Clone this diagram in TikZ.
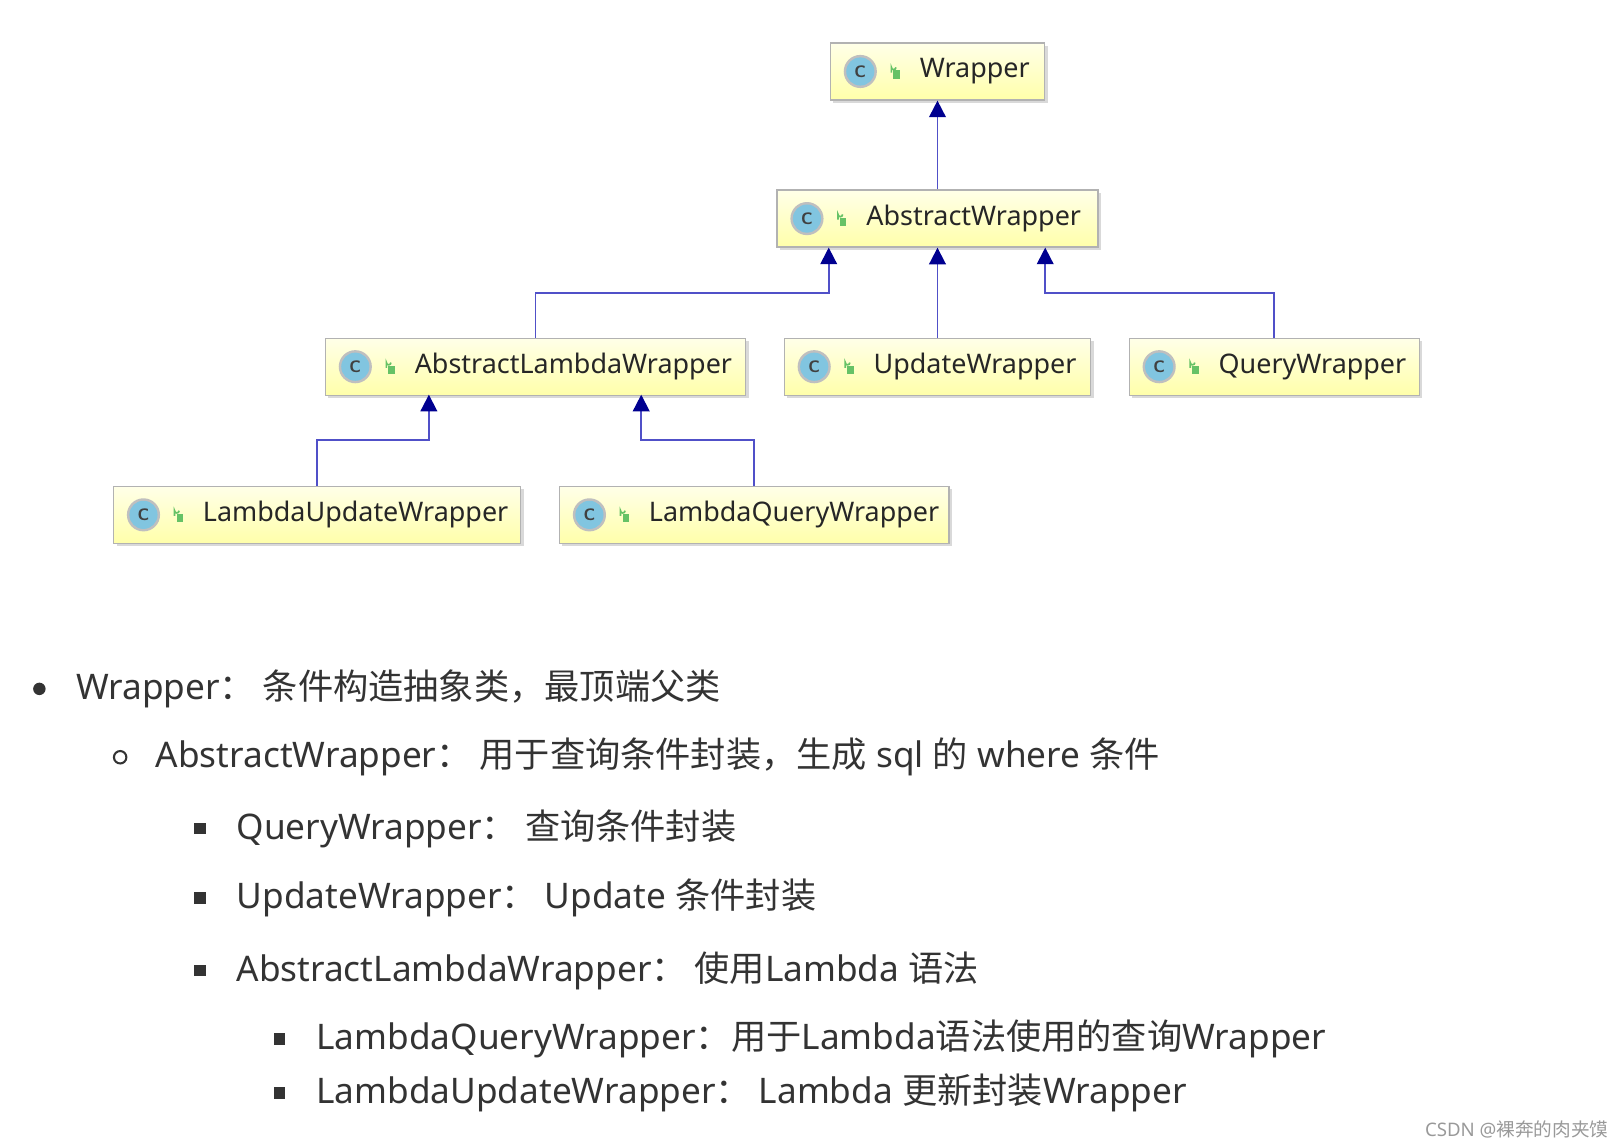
\documentclass[tikz,border=0pt]{standalone}
\usepackage{fontspec}
\setmainfont{Noto Sans}
\newfontfamily\cjk{Noto Sans CJK SC}
\usetikzlibrary{arrows.meta,shadows}
\newcommand\zh[1]{{\cjk #1}}
\definecolor{txt}{HTML}{333333}
\definecolor{edge}{HTML}{5050C8}
\definecolor{tip}{HTML}{000090}
\tikzset{
  cls/.style={draw=black!30, line width=0.6pt, top color={rgb,255:red,255;green,255;blue,232}, bottom color={rgb,255:red,255;green,255;blue,170}, minimum height=27.5pt, inner sep=0pt, drop shadow={shadow xshift=1.5pt, shadow yshift=-1.5pt, fill=black!25, opacity=0.6}},
  lbl/.style={anchor=west, font=\fontsize{13}{15}\selectfont, text=black!85, inner sep=0pt},
  inh/.style={draw=edge, line width=0.9pt, -{Triangle[width=8pt,length=8pt,fill=tip,color=tip]}},
  item/.style={anchor=west, font=\fontsize{17}{20}\selectfont, text=txt, inner sep=0pt},
  dot/.style={fill=txt, circle, inner sep=0pt, minimum size=6pt},
  ring/.style={draw=txt, line width=1pt, circle, inner sep=0pt, minimum size=6pt},
  sq/.style={fill=txt, inner sep=0pt, minimum size=5.5pt},
}
\newcommand\cls[5]{%
  \node[cls, minimum width=#4*0.5pt] (#1) at (#2,#3) {};
  \fill[black!25] (#2-#4/2+29,#3) circle (8pt);
  \fill[cyan!60!teal!55] (#2-#4/2+29,#3) circle (6.8pt);
  \node[font=\sffamily\bfseries\fontsize{8}{8}\selectfont, text=black!75, inner sep=0pt] at (#2-#4/2+29,#3) {C};
  \fill[green!60!black!60] (#2-#4/2+61,#3-1) rectangle ++(6,8);
  \draw[green!60!black!60, line width=0.8pt] (#2-#4/2+59,#3+1) -- ++(0,-5) arc (180:0:2.2) ;
  \node[lbl] (#1t) at (#2-#4/2+86,#3) {#5};
}
\begin{document}
\begin{tikzpicture}[x=0.5pt,y=-0.5pt]
\useasboundingbox (0,0) rectangle (1560,1104);
\cls{w}{905}{69}{207}{Wrapper}
\cls{aw}{905}{211}{310}{AbstractWrapper}
\cls{alw}{517}{354}{406}{AbstractLambdaWrapper}
\cls{uw}{905}{354}{296}{UpdateWrapper}
\cls{qw}{1230}{354}{280}{QueryWrapper}
\cls{luw}{306}{497}{393}{LambdaUpdateWrapper}
\cls{lqw}{728}{497}{376}{LambdaQueryWrapper}
\coordinate (a1) at (800,239); \coordinate (a3) at (1009,239);
\coordinate (b1) at (414,381); \coordinate (b2) at (619,381);
\draw[inh] (aw.north) -- (w.south);
\draw[inh] (alw.north) |- (800,283) -- (a1);
\draw[inh] (uw.north) -- (aw.south);
\draw[inh] (qw.north) |- (1009,283) -- (a3);
\draw[inh] (luw.north) |- (414,425) -- (b1);
\draw[inh] (lqw.north) |- (619,425) -- (b2);
% list
\node[dot] (d1) at (38,665) {};
\node[item] (t1) at (73,665) {Wrapper\zh{：\ 条件构造抽象类，最顶端父类}};
\node[ring] (d2) at (116,731) {};
\node[item] (t2) at (150,731) {AbstractWrapper\zh{：\ 用于查询条件封装，生成} sql \zh{的} where \zh{条件}};
\node[sq] (d3) at (193,800) {};
\node[item] (t3) at (228,800) {QueryWrapper\zh{：\ 查询条件封装}};
\node[sq] (d4) at (193,867) {};
\node[item] (t4) at (228,867) {UpdateWrapper\zh{：\ }Update \zh{条件封装}};
\node[sq] (d5) at (193,937) {};
\node[item] (t5) at (228,937) {AbstractLambdaWrapper\zh{：\ 使用}Lambda \zh{语法}};
\node[sq] (d6) at (270,1003) {};
\node[item] (t6) at (305,1003) {LambdaQueryWrapper\zh{：用于}Lambda\zh{语法使用的查询}Wrapper};
\node[sq] (d7) at (270,1055) {};
\node[item] (t7) at (305,1055) {LambdaUpdateWrapper\zh{：\ }Lambda \zh{更新封装}Wrapper};
\node[anchor=east, font=\fontsize{9}{10}\selectfont, text=black!40, inner sep=0pt] (wm) at (1553,1090) {CSDN @\zh{裸奔的肉夹馍}};
\end{tikzpicture}
\end{document}
